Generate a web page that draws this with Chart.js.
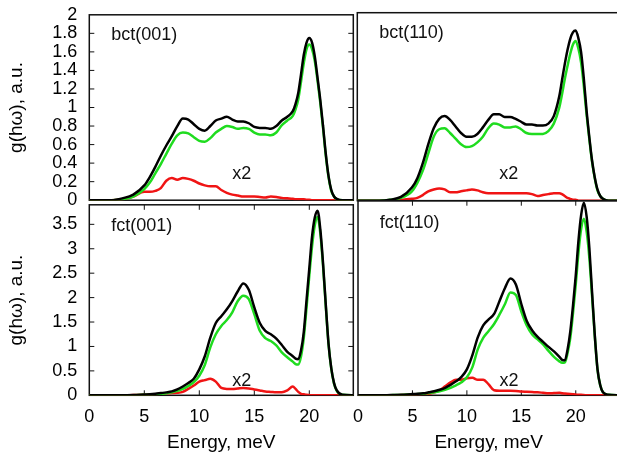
<!DOCTYPE html>
<html>
<head>
<meta charset="utf-8">
<script src="https://cdn.jsdelivr.net/npm/chart.js@4.4.1/dist/chart.umd.min.js"></script>
<style>
    html, body { margin: 0; padding: 0; background: #fff; width: 617px; height: 455px; overflow: hidden; }
    canvas.panel { position: absolute; }
</style>
</head>
<body>
<canvas id="bct001" class="panel"></canvas>
<canvas id="bct110" class="panel"></canvas>
<canvas id="fct001" class="panel"></canvas>
<canvas id="fct110" class="panel"></canvas>
<script>
// Energy grid (meV), finer around the high-energy peak
const energy = [0, 1, 2, 3, 4, 5,
    5.5, 6, 6.5, 7, 7.5, 8, 8.5, 9, 9.5, 10, 10.5, 11, 11.5, 12, 12.5, 13, 13.5,
    14, 14.5, 15, 15.5, 16, 16.5, 17, 17.5, 18, 18.5,
    18.75, 19, 19.25, 19.5, 19.75, 20, 20.25, 20.5, 20.75, 21, 21.25, 21.5, 21.75, 22, 22.25, 22.5,
    23, 24];

// bct(001)
const bct001Total = [0, 0, 0, 0.02, 0.06, 0.16,
    0.25, 0.36, 0.48, 0.59, 0.69, 0.80, 0.88, 0.87, 0.82, 0.77, 0.75, 0.80, 0.86, 0.88, 0.90, 0.87, 0.85,
    0.85, 0.83, 0.79, 0.78, 0.78, 0.77, 0.80, 0.86, 0.90, 0.96,
    1.04, 1.16, 1.36, 1.57, 1.70, 1.75, 1.70, 1.55, 1.32, 1.08, 0.80, 0.50, 0.26, 0.11, 0.04, 0.015,
    0, 0];
const bct001Green = [0, 0, 0, 0.01, 0.04, 0.12,
    0.19, 0.29, 0.39, 0.50, 0.61, 0.70, 0.73, 0.72, 0.68, 0.64, 0.63, 0.67, 0.73, 0.77, 0.80, 0.79, 0.77,
    0.78, 0.77, 0.73, 0.71, 0.71, 0.70, 0.73, 0.81, 0.86, 0.91,
    0.98, 1.09, 1.28, 1.48, 1.63, 1.68, 1.63, 1.50, 1.29, 1.05, 0.78, 0.48, 0.25, 0.10, 0.04, 0.01,
    0, 0];
const bct001Red = [0, 0, 0, 0.01, 0.04, 0.09,
    0.09, 0.10, 0.13, 0.21, 0.24, 0.22, 0.24, 0.23, 0.21, 0.18, 0.16, 0.15, 0.15, 0.11, 0.08, 0.06, 0.05,
    0.04, 0.04, 0.04, 0.035, 0.03, 0.04, 0.035, 0.025, 0.02, 0.015,
    0.01, 0.01, 0.01, 0.01, 0.005, 0.005, 0, 0, 0, 0, 0, 0, 0, 0, 0, 0,
    0, 0];

// bct(110)
const bct110Total = [0, 0, 0, 0.01, 0.04, 0.14,
    0.24, 0.40, 0.60, 0.77, 0.87, 0.90, 0.86, 0.79, 0.72, 0.68, 0.68, 0.71, 0.78, 0.86, 0.92, 0.92, 0.89,
    0.89, 0.87, 0.84, 0.81, 0.81, 0.80, 0.80, 0.82, 0.90, 1.11,
    1.28, 1.45, 1.60, 1.72, 1.79, 1.81, 1.73, 1.58, 1.30, 0.96, 0.68, 0.43, 0.25, 0.12, 0.05, 0.02,
    0, 0];
const bct110Green = [0, 0, 0, 0.01, 0.03, 0.10,
    0.19, 0.32, 0.50, 0.68, 0.76, 0.77, 0.72, 0.66, 0.60, 0.57, 0.58, 0.62, 0.68, 0.77, 0.82, 0.81, 0.78,
    0.78, 0.79, 0.76, 0.72, 0.71, 0.71, 0.71, 0.74, 0.82, 0.99,
    1.13, 1.29, 1.43, 1.56, 1.66, 1.70, 1.62, 1.47, 1.22, 0.92, 0.66, 0.42, 0.24, 0.11, 0.05, 0.02,
    0, 0];
const bct110Red = [0, 0, 0, 0, 0.01, 0.02,
    0.03, 0.06, 0.10, 0.12, 0.13, 0.12, 0.09, 0.09, 0.10, 0.11, 0.12, 0.11, 0.09, 0.08, 0.08, 0.08, 0.08,
    0.08, 0.08, 0.08, 0.08, 0.07, 0.05, 0.06, 0.07, 0.08, 0.08,
    0.07, 0.05, 0.03, 0.02, 0.01, 0.01, 0, 0, 0, 0, 0, 0, 0, 0, 0, 0,
    0, 0];

// fct(001)
const fct001Total = [0, 0, 0, 0, 0.005, 0.015,
    0.02, 0.03, 0.045, 0.06, 0.08, 0.12, 0.18, 0.25, 0.34, 0.53, 0.80, 1.18, 1.48, 1.62, 1.76, 1.93, 2.13,
    2.29, 2.16, 1.80, 1.48, 1.32, 1.25, 1.16, 1.03, 0.89, 0.80,
    0.75, 0.74, 0.92, 1.30, 1.95, 2.60, 3.25, 3.64, 3.78, 3.40, 2.70, 1.85, 1.05, 0.55, 0.25, 0.10,
    0.01, 0];
const fct001Green = [0, 0, 0, 0, 0.003, 0.01,
    0.015, 0.02, 0.03, 0.04, 0.06, 0.09, 0.13, 0.19, 0.27, 0.40, 0.62, 0.98, 1.25, 1.42, 1.54, 1.70, 1.93,
    2.04, 1.97, 1.66, 1.32, 1.17, 1.11, 1.02, 0.88, 0.78, 0.69,
    0.64, 0.63, 0.80, 1.18, 1.80, 2.45, 3.05, 3.48, 3.65, 3.32, 2.65, 1.82, 1.04, 0.54, 0.24, 0.09,
    0.01, 0];
const fct001Red = [0, 0, 0, 0, 0.005, 0.01,
    0.015, 0.02, 0.03, 0.04, 0.045, 0.05, 0.07, 0.13, 0.20, 0.28, 0.31, 0.34, 0.28, 0.15, 0.13, 0.13, 0.14,
    0.15, 0.14, 0.12, 0.10, 0.08, 0.07, 0.06, 0.06, 0.10, 0.18,
    0.13, 0.07, 0.03, 0.02, 0.01, 0.005, 0, 0, 0, 0, 0, 0, 0, 0, 0, 0,
    0, 0];

// fct(110)
const fct110Total = [0, 0, 0, 0.005, 0.01, 0.025,
    0.03, 0.04, 0.06, 0.08, 0.11, 0.15, 0.21, 0.28, 0.37, 0.52, 0.80, 1.16, 1.40, 1.52, 1.63, 1.89, 2.15,
    2.34, 2.22, 1.83, 1.49, 1.30, 1.17, 1.07, 0.97, 0.88, 0.77,
    0.71, 0.70, 0.92, 1.28, 1.80, 2.40, 3.10, 3.62, 3.86, 3.58, 2.95, 2.06, 1.20, 0.52, 0.20, 0.06,
    0.01, 0];
const fct110Green = [0, 0, 0, 0.003, 0.008, 0.02,
    0.025, 0.03, 0.045, 0.06, 0.08, 0.11, 0.15, 0.20, 0.26, 0.36, 0.56, 0.92, 1.15, 1.29, 1.43, 1.62, 1.83,
    2.06, 2.01, 1.68, 1.40, 1.22, 1.12, 1.02, 0.89, 0.77, 0.68,
    0.65, 0.66, 0.85, 1.15, 1.65, 2.22, 2.86, 3.34, 3.54, 3.28, 2.75, 1.98, 1.18, 0.51, 0.20, 0.06,
    0.01, 0];
const fct110Red = [0, 0, 0, 0, 0.005, 0.01,
    0.015, 0.02, 0.03, 0.06, 0.10, 0.18, 0.26, 0.31, 0.31, 0.34, 0.35, 0.31, 0.31, 0.22, 0.10, 0.09, 0.09,
    0.09, 0.085, 0.075, 0.07, 0.065, 0.06, 0.05, 0.04, 0.045, 0.05,
    0.04, 0.035, 0.03, 0.025, 0.02, 0.015, 0.01, 0.01, 0.005, 0, 0, 0, 0, 0, 0, 0,
    0, 0];

// Axis ticks
const xTickValues = [0, 5, 10, 15, 20];
const topYTicks = [0, 0.2, 0.4, 0.6, 0.8, 1, 1.2, 1.4, 1.6, 1.8, 2];
const bottomYTicks = [0, 0.5, 1, 1.5, 2, 2.5, 3, 3.5];

const BLACK = '#000000';
const GREEN = '#1fdc1f';
const RED = '#f01414';
const FONT = "'Liberation Sans', Arial, Helvetica, sans-serif";
const TICK_LEN = 5;

Chart.defaults.font.family = FONT;
Chart.defaults.color = '#000';

// Frame around the plot area plus inward-pointing (mirrored) ticks
const framePlugin = {
    id: 'frame',
    beforeDatasetsDraw(chart, args, opts) {
        const { ctx, chartArea: a, scales: { x, y } } = chart;
        ctx.save();
        ctx.strokeStyle = '#111';
        ctx.lineWidth = 1;
        ctx.beginPath();
        if (opts.yTicks) {
            y.ticks.forEach(t => {
                const py = y.getPixelForValue(t.value);
                if (py <= a.top + 1 || py >= a.bottom - 1) return;
                ctx.moveTo(a.left, py); ctx.lineTo(a.left + TICK_LEN, py);
                ctx.moveTo(a.right, py); ctx.lineTo(a.right - TICK_LEN, py);
            });
        }
        if (opts.xTicks) {
            x.ticks.forEach(t => {
                const px = x.getPixelForValue(t.value);
                if (px <= a.left + 1 || px >= a.right - 1) return;
                ctx.moveTo(px, a.bottom); ctx.lineTo(px, a.bottom - TICK_LEN);
                ctx.moveTo(px, a.top); ctx.lineTo(px, a.top + TICK_LEN);
            });
        }
        ctx.stroke();
        ctx.lineWidth = 1.5;
        ctx.strokeRect(a.left, a.top, a.right - a.left, a.bottom - a.top);
        ctx.restore();
    }
};

// Text labels placed in data coordinates
const notesPlugin = {
    id: 'notes',
    afterDatasetsDraw(chart, args, opts) {
        const { ctx, scales: { x, y } } = chart;
        ctx.save();
        ctx.font = '18px ' + FONT;
        ctx.fillStyle = '#111';
        ctx.textAlign = 'left';
        ctx.textBaseline = 'middle';
        (opts.items || []).forEach(n => {
            ctx.fillText(n.text, x.getPixelForValue(n.x), y.getPixelForValue(n.y));
        });
        ctx.restore();
    }
};

const PANELS = [
    { id: 'bct001', row: 0, col: 0, total: bct001Total, green: bct001Green, red: bct001Red,
      notes: [{ text: 'bct(001)', x: 2, y: 1.78 }, { text: 'x2', x: 13, y: 0.28 }] },
    { id: 'bct110', row: 0, col: 1, total: bct110Total, green: bct110Green, red: bct110Red,
      notes: [{ text: 'bct(110)', x: 2, y: 1.78 }, { text: 'x2', x: 13, y: 0.28 }] },
    { id: 'fct001', row: 1, col: 0, total: fct001Total, green: fct001Green, red: fct001Red,
      notes: [{ text: 'fct(001)', x: 2, y: 3.46 }, { text: 'x2', x: 13, y: 0.29 }] },
    { id: 'fct110', row: 1, col: 1, total: fct110Total, green: fct110Green, red: fct110Red,
      notes: [{ text: 'fct(110)', x: 2, y: 3.46 }, { text: 'x2', x: 13, y: 0.29 }] },
];

// Canvas placement per column / row
const COLS = [
    { left: 0, width: 360, axisWidth: 89.3, padRight: 6.7 },
    { left: 350, width: 280, axisWidth: 7.3, padRight: 10.7 },
];
const ROWS = [
    { top: 0, height: 215, padTop: 12.7, axisHeight: 14.3, yMax: 2, yTicks: topYTicks },
    { top: 190, height: 265, padTop: 10.7, axisHeight: 59.7, yMax: 3.9, yTicks: bottomYTicks },
];

const points = vals => energy.map((e, i) => ({ x: e, y: vals[i] }));
const fmt = v => String(Math.round(v * 10) / 10);

function renderPanel(p) {
    const col = COLS[p.col];
    const row = ROWS[p.row];
    const canvas = document.getElementById(p.id);
    canvas.width = col.width;
    canvas.height = row.height;
    canvas.style.left = col.left + 'px';
    canvas.style.top = row.top + 'px';
    canvas.style.width = col.width + 'px';
    canvas.style.height = row.height + 'px';

    const showX = p.row === 1;
    const showY = p.col === 0;

    new Chart(canvas.getContext('2d'), {
        type: 'line',
        data: {
            datasets: [
                { data: points(p.total), borderColor: BLACK },
                { data: points(p.green), borderColor: GREEN },
                { data: points(p.red), borderColor: RED },
            ]
        },
        options: {
            responsive: false,
            animation: false,
            events: [],
            layout: { padding: { top: row.padTop, right: col.padRight, bottom: 0, left: 0 } },
            elements: {
                point: { radius: 0 },
                line: { borderWidth: 2.5, cubicInterpolationMode: 'monotone', fill: false },
            },
            plugins: {
                legend: { display: false },
                tooltip: { enabled: false },
                frame: { xTicks: showX, yTicks: showY },
                notes: { items: p.notes },
            },
            scales: {
                x: {
                    type: 'linear',
                    min: 0,
                    max: 24,
                    grid: { display: false },
                    border: { display: false },
                    afterBuildTicks: s => { s.ticks = xTickValues.map(v => ({ value: v })); },
                    afterFit: s => { s.height = row.axisHeight; },
                    ticks: {
                        display: showX,
                        autoSkip: false,
                        maxRotation: 0,
                        padding: 3,
                        font: { size: 18 },
                        color: '#000',
                        callback: v => fmt(v),
                    },
                    title: {
                        display: showX,
                        text: 'Energy, meV',
                        font: { size: 19 },
                        color: '#000',
                        padding: { top: 0, bottom: 1 },
                    },
                },
                y: {
                    type: 'linear',
                    min: 0,
                    max: row.yMax,
                    grid: { display: false },
                    border: { display: false },
                    afterBuildTicks: s => { s.ticks = row.yTicks.map(v => ({ value: v })); },
                    afterFit: s => { s.width = col.axisWidth; },
                    ticks: {
                        display: showY,
                        autoSkip: false,
                        padding: 4,
                        font: { size: 18 },
                        color: '#000',
                        callback: v => fmt(v),
                    },
                    title: {
                        display: showY,
                        text: 'g(hω), a.u.',
                        font: { size: 19 },
                        color: '#000',
                        padding: { top: 5, bottom: 0 },
                    },
                },
            },
        },
        plugins: [framePlugin, notesPlugin],
    });
}

PANELS.forEach(renderPanel);
</script>
</body>
</html>
